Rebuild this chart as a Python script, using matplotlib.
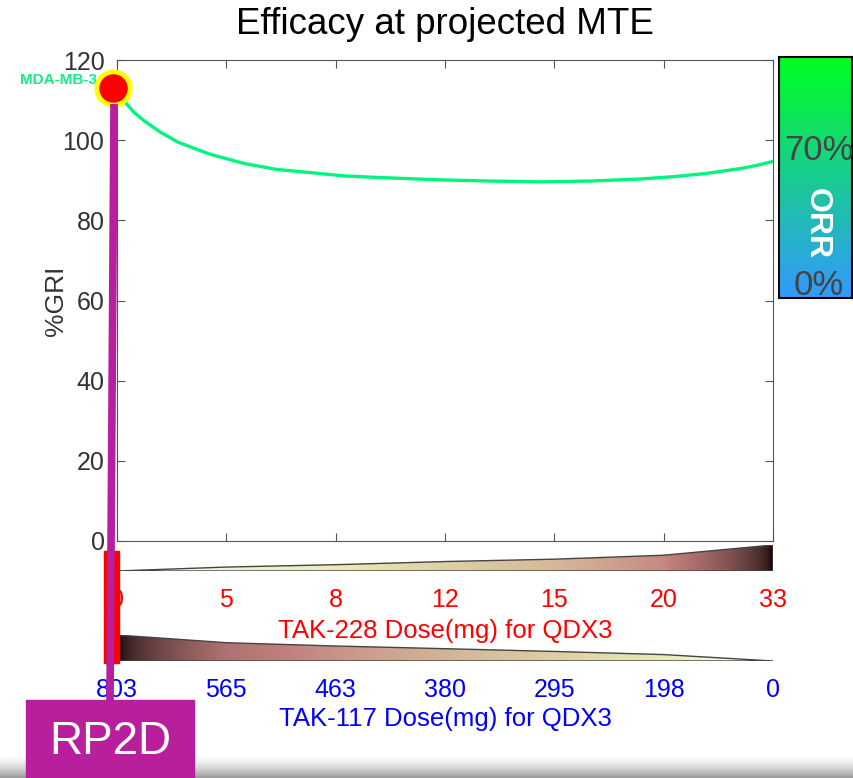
import numpy as np
import matplotlib.pyplot as plt
from matplotlib.patches import Polygon, Rectangle
from matplotlib.colors import LinearSegmentedColormap

# dose steps shared by both axes (index 0..6)
tak228_dose = [0, 5, 8, 12, 15, 20, 33]
tak117_dose = [803, 565, 463, 380, 295, 198, 0]

# %GRI response along the dose axis (MDA-MB-361)
curve_x = [0.0, 0.03, 0.07, 0.15, 0.24, 0.39, 0.55, 0.70, 0.85, 1.16, 1.46,
           1.77, 2.07, 2.38, 2.95, 3.41, 3.87, 4.33, 4.78, 5.09, 5.39, 5.70,
           5.85, 6.0]
curve_y = [113.0, 110.8, 109.6, 107.1, 105.0, 102.1, 99.6, 98.0, 96.5, 94.2,
           92.7, 91.9, 91.1, 90.7, 90.1, 89.8, 89.6, 89.8, 90.3, 90.9, 91.7,
           92.9, 93.7, 94.7]
cell_line = "MDA-MB-3"
rp2d_x = -0.04
rp2d_gri = 113

W, H = 854, 778
font = ['Liberation Sans', 'DejaVu Sans']
plt.rcParams['font.family'] = font


def px_rect(l, t, r, b):
    return [l / W, 1 - b / H, (r - l) / W, (b - t) / H]


fig = plt.figure(figsize=(W / 100, H / 100), dpi=100)

# main response panel
ax = fig.add_axes(px_rect(117, 60, 773, 541))
ax.plot(curve_x, curve_y, color='#00f57f', lw=2.4, zorder=2)
ax.plot([rp2d_x], [rp2d_gri], 'o', ms=24, mfc='#ff0000', mec='#ffff00',
        mew=3.5, clip_on=False, zorder=5)
ax.text(rp2d_x - 0.14, rp2d_gri + 2, cell_line, color='#11ee88',
        fontsize=11, fontweight='bold', ha='right', va='center',
        zorder=4, clip_on=False)
ax.set_xlim(0, 6)
ax.set_ylim(0, 120)
ax.set_xticks(range(7))
ax.set_xticklabels([])
ax.set_yticks(range(0, 121, 20))
ax.tick_params(direction='in', length=6, color='#555555', top=True, right=True,
               labelsize=18, labelcolor='#333333', pad=9)
for s in ax.spines.values():
    s.set_color('#555555')
ax.set_ylabel('%GRI', fontsize=19, color='#333333', labelpad=-4)

fig.text(445 / W, 1 - 25 / H, 'Efficacy at projected MTE', fontsize=26.5,
         ha='center', va='center')


def dose_wedge(rect, doses, color, label, labelpad):
    wax = fig.add_axes(px_rect(*rect))
    wax.patch.set_visible(False)
    top = max(doses)
    xs = np.linspace(0, 6, 600)
    shade = np.interp(xs, range(7), doses)
    img = wax.imshow(shade[None, :], extent=(0, 6, 0, top), aspect='auto',
                     cmap='pink_r', vmin=0, vmax=top, origin='lower')
    verts = [(0, 0)] + list(zip(range(7), doses)) + [(6, 0)]
    poly = Polygon(verts, closed=True, fc='none', ec='#444444', lw=1)
    wax.add_patch(poly)
    img.set_clip_path(poly)
    wax.set_xlim(0, 6)
    wax.set_ylim(0, top)
    wax.set_xticks(range(7))
    wax.set_xticklabels([str(d) for d in doses], color=color, fontsize=18)
    wax.tick_params(length=0, pad=12)
    wax.set_yticks([])
    for s in wax.spines.values():
        s.set_visible(False)
    wax.set_xlabel(label, color=color, fontsize=18.5, labelpad=labelpad)
    return wax


dose_wedge((117, 545, 773, 571), tak228_dose, '#ff0000',
           'TAK-228 Dose(mg) for QDX3', 5)
dose_wedge((117, 635, 773, 661), tak117_dose, '#0000ff',
           'TAK-117 Dose(mg) for QDX3', 4)

# ORR scale on the right
cax = fig.add_axes(px_rect(779, 57, 852, 298))
orr_cmap = LinearSegmentedColormap.from_list('orr', ['#3399ff', '#00ff22'])
cax.imshow(np.linspace(0, 1, 256)[:, None], cmap=orr_cmap, aspect='auto',
           origin='lower', extent=(0, 1, 0, 1))
cax.set_xticks([])
cax.set_yticks([])
for s in cax.spines.values():
    s.set_linewidth(1.5)
cax.text(0.55, 0.61, '70%', color='#444444', fontsize=25,
         ha='center', va='center', transform=cax.transAxes)
cax.text(0.55, 0.05, '0%', color='#444444', fontsize=25,
         ha='center', va='center', transform=cax.transAxes)
cax.text(0.52, 0.31, 'ORR', color='white', fontsize=23, fontweight='bold',
         rotation=270, ha='center', va='center', transform=cax.transAxes)

# overlay in pixel units for the RP2D marker
deco = fig.add_axes([0, 0, 1, 1], zorder=10)
deco.axis('off')
shadow = LinearSegmentedColormap.from_list('shadow', ['#ffffff', '#9a9a9a'])
deco.imshow(np.linspace(0, 1, 64)[:, None] ** 1.6, cmap=shadow, aspect='auto',
            extent=(0, W, H, H - 24), zorder=0)
deco.add_patch(Rectangle((104, 551), 15, 112, color='#ff0000', zorder=1))
deco.plot([114, 110], [104, 702], color='#b81f9c', lw=5.5,
          solid_capstyle='butt', zorder=2)
deco.add_patch(Rectangle((26, 700), 168, 78, color='#b81f9c', zorder=3))
deco.text(110, 742, 'RP2D', color='white', fontsize=33,
          ha='center', va='center', zorder=4)
deco.set_xlim(0, W)
deco.set_ylim(H, 0)

fig.savefig('out.png', dpi=100)
